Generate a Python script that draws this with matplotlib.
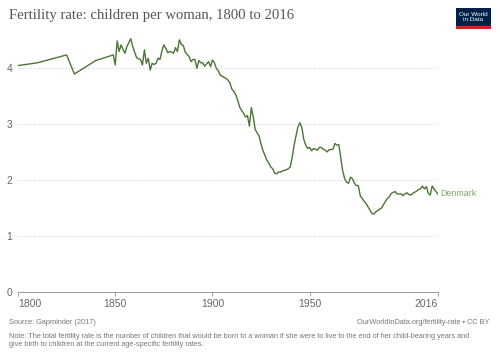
import matplotlib
matplotlib.use("Agg")
import matplotlib.pyplot as plt
from matplotlib.patches import Rectangle

# Denmark, children per woman
early_years = [1800, 1810, 1825, 1829, 1840, 1849, 1850]
early_values = [4.04, 4.09, 4.23, 3.89, 4.13, 4.23, 4.05]

annual_years = list(range(1851, 2017))
annual_values = [
    4.48, 4.29, 4.41, 4.33, 4.26, 4.38, 4.45, 4.52, 4.38, 4.28,  # 1851-1860
    4.18, 4.16, 4.15, 4.05, 4.32, 4.08, 4.17, 3.96, 4.08, 4.06,  # 1861-1870
    4.08, 4.17, 4.15, 4.30, 4.41, 4.35, 4.27, 4.29, 4.28, 4.26,  # 1871-1880
    4.36, 4.29, 4.50, 4.42, 4.40, 4.28, 4.24, 4.20, 4.11, 4.15,  # 1881-1890
    4.15, 3.99, 4.13, 4.09, 4.09, 4.03, 4.07, 4.11, 4.02, 4.14,  # 1891-1900
    4.09, 3.99, 3.95, 3.87, 3.85, 3.83, 3.81, 3.78, 3.73, 3.62,  # 1901-1910
    3.58, 3.52, 3.42, 3.30, 3.24, 3.19, 3.12, 3.15, 2.96, 3.29,  # 1911-1920
    3.12, 2.90, 2.84, 2.78, 2.64, 2.52, 2.44, 2.35, 2.30, 2.23,  # 1921-1930
    2.20, 2.12, 2.11, 2.14, 2.14, 2.16, 2.17, 2.18, 2.20, 2.23,  # 1931-1940
    2.40, 2.62, 2.79, 2.95, 3.02, 2.93, 2.72, 2.62, 2.56, 2.58,  # 1941-1950
    2.52, 2.56, 2.55, 2.53, 2.58, 2.58, 2.55, 2.53, 2.50, 2.54,  # 1951-1960
    2.54, 2.55, 2.65, 2.62, 2.63, 2.40, 2.16, 2.02, 1.96, 1.94,  # 1961-1970
    2.05, 2.02, 1.94, 1.90, 1.90, 1.72, 1.67, 1.62, 1.58, 1.52,  # 1971-1980
    1.46, 1.40, 1.39, 1.43, 1.45, 1.48, 1.50, 1.56, 1.62, 1.67,  # 1981-1990
    1.70, 1.76, 1.78, 1.79, 1.75, 1.75, 1.75, 1.72, 1.75, 1.77,  # 1991-2000
    1.74, 1.73, 1.76, 1.78, 1.80, 1.83, 1.84, 1.89, 1.84, 1.88,  # 2001-2010
    1.76, 1.73, 1.89, 1.84, 1.79, 1.75,                          # 2011-2016
]

years = early_years + annual_years
values = early_values + annual_values

x_ticks = [1800, 1850, 1900, 1950, 2016]
y_ticks = [0, 1, 2, 3, 4]

line_color = "#4b7536"
label_color = "#7fa56c"
text_gray = "#666666"

fig = plt.figure(figsize=(5.0, 3.53), dpi=100)
ax = fig.add_axes([0.036, 0.1728, 0.840, 0.7224])

ax.plot(years, values, color=line_color, lw=1.0, solid_joinstyle="round")
ax.set_xlim(1800, 2016)
ax.set_ylim(0, 4.55)

ax.set_yticks(y_ticks)
ax.set_yticklabels([str(v) for v in y_ticks], fontsize=7.5, color=text_gray,
                   family="Liberation Sans")
ax.tick_params(axis="y", length=0, pad=4)
for v in y_ticks[1:]:
    ax.axhline(v, color="#dddddd", lw=0.7, ls=(0, (2, 2)), zorder=0)

ax.set_xticks(x_ticks)
ax.set_xticklabels([str(v) for v in x_ticks], fontsize=7.5, color=text_gray,
                   family="Liberation Sans")
ax.tick_params(axis="x", length=3, color="#999999", width=0.6, pad=2)
labels = ax.get_xticklabels()
labels[0].set_ha("left")
labels[-1].set_ha("right")

for side in ["top", "right", "left"]:
    ax.spines[side].set_visible(False)
ax.spines["bottom"].set_color("#999999")
ax.spines["bottom"].set_linewidth(0.7)

ax.text(2016 + 1.2, values[-1], "Denmark", fontsize=6.4, color=label_color,
        va="center", ha="left", family="Liberation Sans", clip_on=False)

fig.text(0.018, 0.955, "Fertility rate: children per woman, 1800 to 2016",
         fontsize=10.6, color="#555555", family="Liberation Serif", va="center")

# logo
logo = fig.add_axes([0.912, 0.918, 0.07, 0.058])
logo.axis("off")
logo.add_patch(Rectangle((0, 0.12), 1, 0.88, color="#002147", transform=logo.transAxes))
logo.add_patch(Rectangle((0, 0), 1, 0.12, color="#ce261e", transform=logo.transAxes))
logo.text(0.5, 0.58, "Our World\nin Data", color="white", fontsize=4.6, ha="center",
          va="center", linespacing=0.95, family="Liberation Sans",
          transform=logo.transAxes)

foot = dict(fontsize=5.35, color="#777777", family="Liberation Sans")
fig.text(0.018, 0.085, "Source: Gapminder (2017)", va="center", **foot)
fig.text(0.978, 0.085, "OurWorldInData.org/fertility-rate \u2022 CC BY", va="center",
         ha="right", **foot)
fig.text(0.018, 0.057,
         "Note: The total fertility rate is the number of children that would be born to a woman "
         "if she were to live to the end of her child-bearing years and\n"
         "give birth to children at the current age-specific fertility rates.",
         va="top", linespacing=1.25, **foot)

fig.savefig("out.png", dpi=100)
